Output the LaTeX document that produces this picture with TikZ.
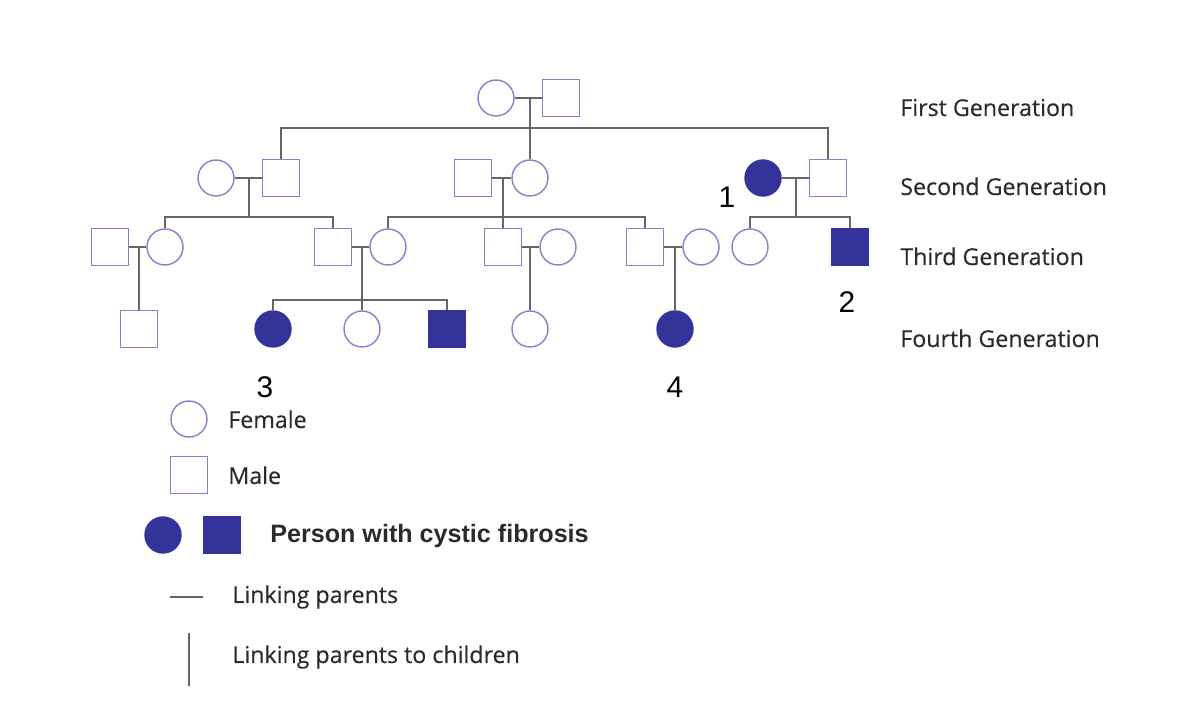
\documentclass[tikz,border=0pt]{standalone}
\usepackage{fontspec}
\setmainfont{Open Sans}
\newfontfamily\keyfont[FakeBold=0.35]{Open Sans}
\newfontfamily\numfont{Liberation Sans}
\usepackage{xcolor}
\usepackage{tikz}
\usetikzlibrary{shapes,positioning}

\definecolor{pedline}{HTML}{8482CC}
\definecolor{pedfill}{HTML}{333399}
\definecolor{linkgray}{HTML}{666666}
\definecolor{txtgray}{HTML}{2B2B2B}

\begin{document}
\begin{tikzpicture}[
    x=0.02cm, y=-0.02cm,
    female/.style={circle, draw=pedline, line width=0.8pt, fill=white, minimum size=0.72cm, inner sep=0pt},
    male/.style={rectangle, draw=pedline, line width=0.8pt, fill=white, minimum size=0.74cm, inner sep=0pt},
    affected/.style={fill=pedfill, draw=pedfill},
    link/.style={draw=linkgray, line width=1.1pt},
    genlabel/.style={anchor=base west, font=\keyfont\fontsize{13.2}{15}\selectfont, text=txtgray, inner sep=0pt},
    keylabel/.style={anchor=base west, font=\keyfont\fontsize{13.2}{15}\selectfont, text=txtgray, inner sep=0pt},
    numlabel/.style={font=\numfont\fontsize{17}{19}\selectfont, inner sep=0pt}
]
\useasboundingbox (0,0) rectangle (1191,712);

% first generation
\node[female] (f1) at (496,98) {};
\node[male] (m1) at (561,98) {};
\coordinate (c1) at (530,98);
\coordinate (b1) at (530,128);

% second generation
\node[female] (f2a) at (216,178) {};
\node[male] (m2a) at (281,178) {};
\node[male] (m2b) at (473,178) {};
\node[female] (f2b) at (530,178) {};
\node[female, affected] (f2c) at (763,178) {};
\node[male] (m2c) at (828,178) {};
\coordinate (c2a) at (249,178);
\coordinate (c2b) at (503,178);
\coordinate (c2c) at (796,178);
\coordinate (b2a) at (249,217);
\coordinate (b2b) at (503,217);
\coordinate (b2c) at (796,217);

% third generation
\node[male] (m3a) at (110,247) {};
\node[female] (f3a) at (165,247) {};
\node[male] (m3b) at (333,247) {};
\node[female] (f3b) at (388,247) {};
\node[male] (m3c) at (503,247) {};
\node[female] (f3c) at (558,247) {};
\node[male] (m3d) at (645,247) {};
\node[female] (f3d) at (701,247) {};
\node[female] (f3e) at (750,247) {};
\node[male, affected] (m3e) at (850,247) {};
\coordinate (c3a) at (139,247);
\coordinate (c3b) at (362,247);
\coordinate (c3c) at (530,247);
\coordinate (c3d) at (675,247);
\coordinate (b3b) at (362,300);

% fourth generation
\node[male] (m4a) at (139,329) {};
\node[female, affected] (f4a) at (273,329) {};
\node[female] (f4b) at (362,329) {};
\node[male, affected] (m4b) at (447,329) {};
\node[female] (f4c) at (530,329) {};
\node[female, affected] (f4d) at (675,329) {};

% couples
\draw[link] (f1) -- (m1);
\draw[link] (f2a) -- (m2a);
\draw[link] (m2b) -- (f2b);
\draw[link] (f2c) -- (m2c);
\draw[link] (m3a) -- (f3a);
\draw[link] (m3b) -- (f3b);
\draw[link] (m3c) -- (f3c);
\draw[link] (m3d) -- (f3d);

% children
\draw[link] (c1) -- (f2b);
\draw[link] (m2a.north) |- (b1) -| (m2c.north);
\draw[link] (c2a) -- (b2a);
\draw[link] (f3a.north) |- (b2a) -| (m3b.north);
\draw[link] (c2b) -- (m3c);
\draw[link] (f3b.north) |- (b2b) -| (m3d.north);
\draw[link] (c2c) -- (b2c);
\draw[link] (f3e.north) |- (b2c) -| (m3e.north);
\draw[link] (c3a) -- (m4a);
\draw[link] (c3b) -- (f4b);
\draw[link] (f4a.north) |- (b3b) -| (m4b.north);
\draw[link] (c3c) -- (f4c);
\draw[link] (c3d) -- (f4d);

% numbers
\node[numlabel] (n1) at (727,197) {1};
\node[numlabel] (n2) at (847,302) {2};
\node[numlabel] (n3) at (265,387) {3};
\node[numlabel] (n4) at (675,387) {4};

% generation labels
\node[genlabel] (g1) at (900,116) {First Generation};
\node[genlabel] (g2) at (900,195) {Second Generation};
\node[genlabel] (g3) at (900,265) {Third Generation};
\node[genlabel] (g4) at (900,347) {Fourth Generation};

% key
\node[female] (kf) at (189,419) {};
\node[keylabel] (kft) at (228,428) {Female};
\node[male] (km) at (189,475) {};
\node[keylabel] (kmt) at (228,484) {Male};
\node[female, affected] (kaf) at (163,535) {};
\node[male, affected] (kam) at (222,535) {};
\node[keylabel, font=\numfont\bfseries\fontsize{14.3}{16}\selectfont] (kat) at (270,543) {Person with cystic fibrosis};
\coordinate (kp1) at (170,597);
\coordinate (kp2) at (203,597);
\draw[link] (kp1) -- (kp2);
\node[keylabel] (kpt) at (232,603) {Linking parents};
\coordinate (kc1) at (189,633);
\coordinate (kc2) at (189,686);
\draw[link] (kc1) -- (kc2);
\node[keylabel] (kct) at (232,663) {Linking parents to children};
\end{tikzpicture}
\end{document}
